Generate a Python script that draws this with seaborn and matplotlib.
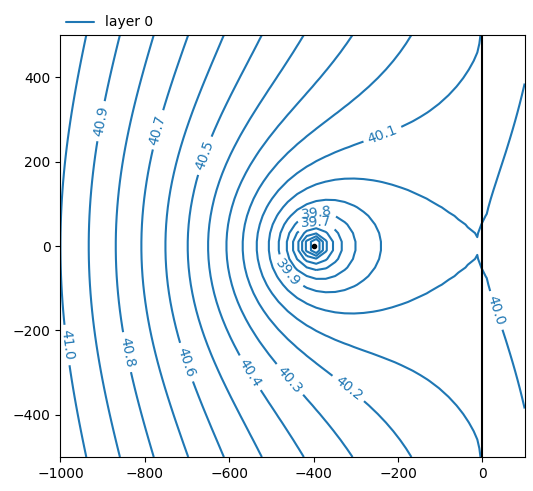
import numpy as np
import matplotlib
matplotlib.use("Agg")
import matplotlib.pyplot as plt
import seaborn as sns

# aquifer / model parameters (single layer)
kaq = 10.0
thickness = 20.0
slope = 0.001              # uniform flow gradient in +x
x_ref, y_ref, h_ref = -1000.0, 0.0, 41.0   # reference head
x_well, y_well, Q_well = -400.0, 0.0, 400.0
river_x = [0.0, 0.0]
river_y = [-500.0, 500.0]
h_river = 40.0
win = [-1000, 100, -500, 500]
ngr = 50
levels = np.round(np.arange(39.0, 42.0, 0.1), 1)

T = kaq * thickness
half = (river_y[1] - river_y[0]) / 2
yc = (river_y[1] + river_y[0]) / 2


def ls_integral(x, y):
    # integral of ln(r) along the line sink x = 0, |s - yc| < half
    x = np.where(np.abs(x) < 1e-9, 1e-9, x)

    def G(u):
        return 0.5 * (u * np.log(x**2 + u**2) - 2 * u + 2 * x * np.arctan(u / x))
    return G(yc + half - y) - G(yc - half - y)


def parts(x, y):
    r = np.sqrt((x - x_well)**2 + (y - y_well)**2)
    uf = -T * slope * x
    wl = Q_well / (2 * np.pi) * np.log(r)
    ls = ls_integral(x - river_x[0], y) / (2 * np.pi)
    return uf + wl, ls


# solve for line sink strength and constant
a1, b1 = parts(np.array(x_ref), np.array(y_ref))
a2, b2 = parts(np.array(river_x[0]), np.array(yc))
A = np.array([[b1, 1.0], [b2, 1.0]])
rhs = np.array([T * h_ref - a1, T * h_river - a2])
sigma, C = np.linalg.solve(A, rhs)

xg = np.linspace(win[0], win[1], ngr)
yg = np.linspace(win[2], win[3], ngr)
X, Y = np.meshgrid(xg, yg)
p, q = parts(X, Y)
H = (p + sigma * q + C) / T

sns.set_style("ticks", {"axes.edgecolor": "black", "xtick.color": "black",
                        "ytick.color": "black", "text.color": "black",
                        "axes.labelcolor": "black"})
plt.rcParams["font.family"] = ["DejaVu Sans"]

fig = plt.figure(figsize=(5.33, 4.91), dpi=100)
ax = fig.add_axes([0.1107, 0.0692, 0.8763, 0.8595])
cs = ax.contour(X, Y, H, levels=levels, colors="C0")
ax.clabel(cs, fmt="%1.1f")
ax.plot([], [], color="C0", label="layer 0")
ax.plot(river_x, river_y, color="k")
ax.plot(x_well, y_well, "k.")
ax.set_xlim(win[0], win[1])
ax.set_ylim(win[2], win[3])
ax.set_aspect("equal")
ax.legend(loc=(0, 1), frameon=False)
fig.savefig("out.png", dpi=100)
